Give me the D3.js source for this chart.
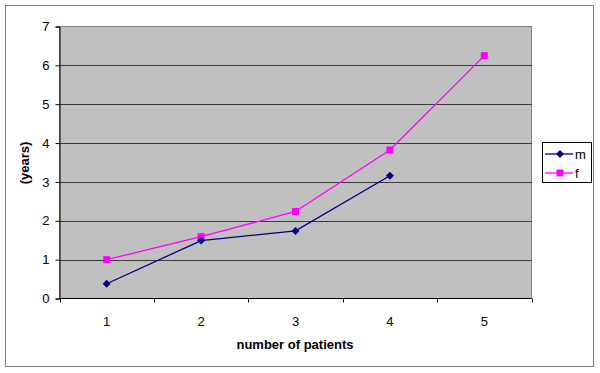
<!DOCTYPE html>
<html>
<head>
<meta charset="utf-8">
<script src="https://cdn.jsdelivr.net/npm/d3@7"></script>
<style>
  body { margin: 0; background: #fff; }
  svg { display: block; font-family: "Liberation Sans", Arial, sans-serif; }
</style>
</head>
<body>
<div class="chart"></div>
<script>
const categories = [1, 2, 3, 4, 5];
const mValues = [0.38, 1.49, 1.74, 3.16];
const fValues = [1.0, 1.59, 2.24, 3.82, 6.25];
const yTicks = [0, 1, 2, 3, 4, 5, 6, 7];

const series = [
    { name: 'm', values: mValues, color: '#000080', marker: 'diamond' },
    { name: 'f', values: fValues, color: '#ff00ff', marker: 'square' }
];

function drawChart() {
    const width = 600, height = 373;
    const plot = { left: 59.5, top: 26.5, right: 531.5, bottom: 298.5 };

    const svg = d3.select('.chart').append('svg')
        .attr('width', width)
        .attr('height', height);

    // outer frame
    svg.append('rect')
        .attr('x', 5.5).attr('y', 5.5)
        .attr('width', 588).attr('height', 361)
        .attr('fill', '#fff')
        .attr('stroke', '#7f7f7f');

    const x = d3.scaleBand()
        .domain(categories)
        .range([plot.left, plot.right]);

    const y = d3.scaleLinear()
        .domain([0, 7])
        .range([plot.bottom, plot.top]);

    // plot area
    svg.append('rect')
        .attr('x', plot.left).attr('y', plot.top)
        .attr('width', plot.right - plot.left)
        .attr('height', plot.bottom - plot.top)
        .attr('fill', '#c0c0c0')
        .attr('stroke', '#808080');

    // gridlines
    svg.append('g')
        .selectAll('line')
        .data(yTicks.filter(d => d > 0 && d < 7))
        .join('line')
        .attr('x1', plot.left).attr('x2', plot.right)
        .attr('y1', d => Math.round(y(d)) + 0.5)
        .attr('y2', d => Math.round(y(d)) + 0.5)
        .attr('stroke', '#3a3a3a');

    // y axis
    const yAxis = svg.append('g')
        .attr('transform', `translate(${plot.left},0)`)
        .call(d3.axisLeft(y).tickValues(yTicks).tickSize(4).tickPadding(6).tickFormat(d3.format('d')));
    yAxis.select('.domain').attr('stroke', '#000');
    yAxis.selectAll('.tick line').attr('stroke', '#000');
    yAxis.selectAll('text').attr('font-size', 13).attr('fill', '#000')
        .attr('font-family', '"Liberation Sans", Arial, sans-serif');

    // x axis: ticks at category boundaries
    const xAxis = svg.append('g')
        .attr('transform', `translate(0,${plot.bottom})`);
    xAxis.append('line')
        .attr('x1', plot.left).attr('x2', plot.right)
        .attr('stroke', '#000');
    xAxis.selectAll('.bound')
        .data(categories.concat([null]))
        .join('line')
        .attr('class', 'bound')
        .attr('x1', (d, i) => Math.round(plot.left + i * x.bandwidth()) + 0.5)
        .attr('x2', (d, i) => Math.round(plot.left + i * x.bandwidth()) + 0.5)
        .attr('y1', 0).attr('y2', 4)
        .attr('stroke', '#000');
    xAxis.selectAll('text')
        .data(categories)
        .join('text')
        .attr('x', d => x(d) + x.bandwidth() / 2)
        .attr('y', 27)
        .attr('text-anchor', 'middle')
        .attr('font-size', 13)
        .text(d => d);

    // axis titles
    svg.append('text')
        .attr('x', 295).attr('y', 349)
        .attr('text-anchor', 'middle')
        .attr('font-size', 13).attr('font-weight', 'bold')
        .text('number of patients');
    svg.append('text')
        .attr('transform', 'translate(29,163) rotate(-90)')
        .attr('text-anchor', 'middle')
        .attr('font-size', 13).attr('font-weight', 'bold')
        .text('(years)');

    const line = d3.line()
        .x((d, i) => x(categories[i]) + x.bandwidth() / 2)
        .y(d => y(d));

    function marker(g, type, color, cx, cy) {
        if (type === 'square') {
            g.append('rect')
                .attr('x', cx - 3.5).attr('y', cy - 3.5)
                .attr('width', 7).attr('height', 7)
                .attr('fill', color);
        } else {
            g.append('path')
                .attr('d', `M${cx},${cy - 4}L${cx + 4},${cy}L${cx},${cy + 4}L${cx - 4},${cy}Z`)
                .attr('fill', color);
        }
    }

    // draw f first so m sits on top like the reference
    series.slice().reverse().forEach(s => {
        const g = svg.append('g');
        g.append('path')
            .attr('d', line(s.values))
            .attr('fill', 'none')
            .attr('stroke', s.color)
            .attr('stroke-width', 1.3);
        s.values.forEach((v, i) => {
            marker(g, s.marker, s.color, x(categories[i]) + x.bandwidth() / 2, y(v));
        });
    });

    // legend
    const legend = svg.append('g');
    legend.append('rect')
        .attr('x', 542.5).attr('y', 142.5)
        .attr('width', 49).attr('height', 40)
        .attr('fill', '#fff')
        .attr('stroke', '#000');
    series.forEach((s, i) => {
        const ly = 154 + i * 19;
        legend.append('line')
            .attr('x1', 545).attr('x2', 573)
            .attr('y1', ly).attr('y2', ly)
            .attr('stroke', s.color).attr('stroke-width', 1.3);
        marker(legend, s.marker, s.color, 560, ly);
        legend.append('text')
            .attr('x', 575).attr('y', ly + 4.5)
            .attr('font-size', 13)
            .text(s.name);
    });
}

window.addEventListener('load', drawChart);
</script>
</body>
</html>
